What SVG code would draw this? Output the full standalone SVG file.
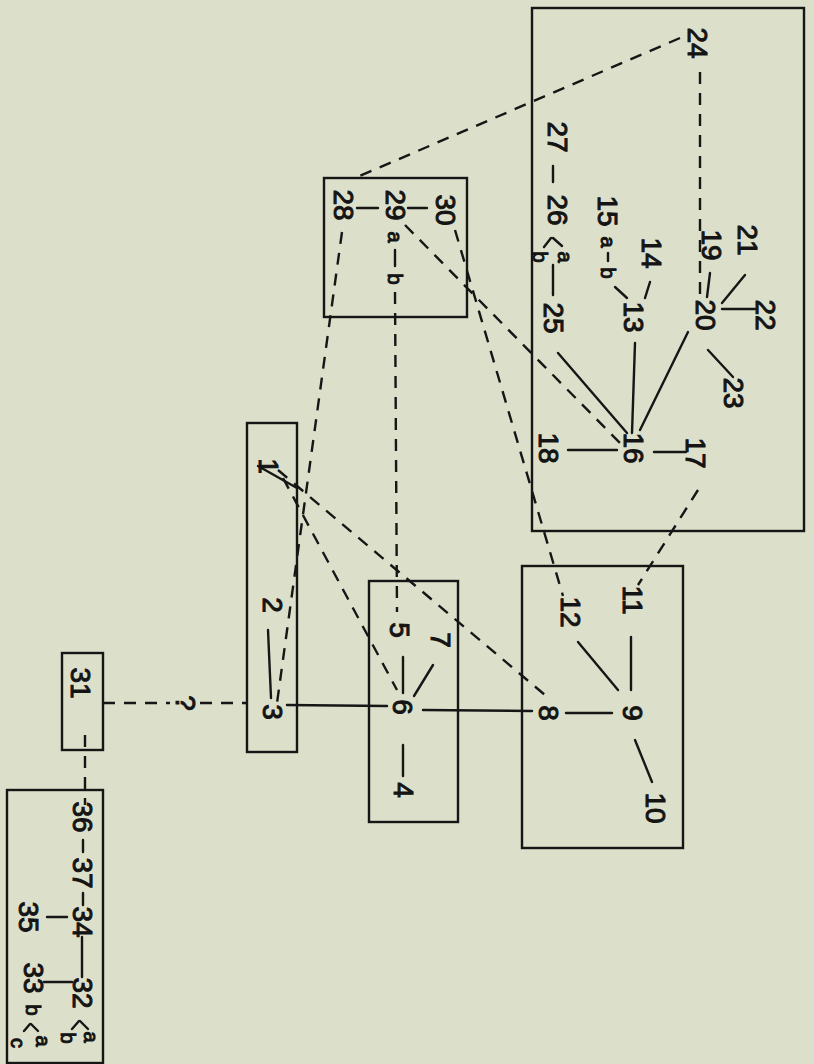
<svg xmlns="http://www.w3.org/2000/svg" width="814" height="1064" viewBox="0 0 814 1064">
<style>
.bg{fill:#dcdfc9}
.box{fill:none;stroke:#161616;stroke-width:2.4}
.s{fill:none;stroke:#161616;stroke-width:2.4;stroke-linecap:round}
.d{fill:none;stroke:#161616;stroke-width:2.4;stroke-dasharray:12 9}
text{font-family:"Liberation Sans",Arial,sans-serif;fill:#141414;stroke:#141414;stroke-width:1;text-anchor:middle;dominant-baseline:central}
.n{font-size:28px}
.sm{font-size:20px}
</style>
<rect class="bg" x="0" y="0" width="814" height="1064"/>
<g id="frames">
<rect class="box" x="532" y="8" width="272" height="523"/>
<rect class="box" x="324" y="178" width="143" height="139"/>
<rect class="box" x="247" y="423" width="50" height="329"/>
<rect class="box" x="369" y="581" width="89" height="241"/>
<rect class="box" x="522" y="566" width="161" height="282"/>
<rect class="box" x="62" y="653" width="41" height="97"/>
<rect class="box" x="7" y="790" width="96" height="273"/>
</g>
<g id="connectors">
<line class="s" x1="268" y1="630" x2="271" y2="698"/>
<line class="s" x1="287" y1="705" x2="387" y2="706"/>
<line class="s" x1="423" y1="710" x2="532" y2="711"/>
<line class="s" x1="403" y1="657" x2="403" y2="693"/>
<line class="s" x1="433" y1="665" x2="414" y2="696"/>
<line class="s" x1="403" y1="745" x2="403" y2="776"/>
<line class="s" x1="566" y1="713" x2="612" y2="713"/>
<line class="s" x1="631" y1="637" x2="631" y2="690"/>
<line class="s" x1="578" y1="642" x2="618" y2="690"/>
<line class="s" x1="635" y1="740" x2="652" y2="782"/>
<line class="s" x1="357" y1="208" x2="378" y2="208"/>
<line class="s" x1="408" y1="208" x2="427" y2="208"/>
<line class="s" x1="553" y1="166" x2="553" y2="182"/>
<line class="s" x1="553" y1="265" x2="553" y2="295"/>
<line class="s" x1="615" y1="287" x2="627" y2="298"/>
<line class="s" x1="650" y1="282" x2="645" y2="298"/>
<line class="s" x1="710" y1="273" x2="707" y2="297"/>
<line class="s" x1="722" y1="303" x2="745" y2="275"/>
<line class="s" x1="722" y1="309" x2="755" y2="309"/>
<line class="s" x1="708" y1="350" x2="733" y2="377"/>
<line class="s" x1="688" y1="332" x2="640" y2="430"/>
<line class="s" x1="635" y1="343" x2="632" y2="433"/>
<line class="s" x1="558" y1="353" x2="627" y2="433"/>
<line class="s" x1="568" y1="450" x2="617" y2="450"/>
<line class="s" x1="654" y1="452" x2="686" y2="452"/>
<line class="s" x1="83" y1="840" x2="83" y2="852"/>
<line class="s" x1="83" y1="893" x2="83" y2="905"/>
<line class="s" x1="47" y1="917" x2="67" y2="917"/>
<line class="s" x1="82" y1="937" x2="82" y2="977"/>
<line class="s" x1="44" y1="982" x2="72" y2="982"/>
<line class="d" x1="700" y1="72" x2="700" y2="297"/>
<line class="d" x1="680" y1="38" x2="355" y2="178"/>
<line class="d" x1="342" y1="232" x2="277" y2="703"/>
<line class="d" x1="395" y1="292" x2="397" y2="612"/>
<line class="d" x1="405" y1="225" x2="620" y2="443"/>
<line class="d" x1="455" y1="230" x2="563" y2="596"/>
<line class="d" x1="698" y1="490" x2="638" y2="585"/>
<line class="d" x1="278" y1="470" x2="545" y2="695"/>
<line class="d" x1="283" y1="478" x2="397" y2="690"/>
<line class="d" x1="103" y1="703" x2="170" y2="703"/>
<line class="d" x1="200" y1="703" x2="247" y2="703"/>
<line class="d" x1="85" y1="735" x2="85" y2="805"/>
</g>
<g id="n1"><text class="n" x="268" y="466" transform="rotate(90 268 466)">1</text><line class="s" x1="258" y1="466" x2="297" y2="488"/></g>
<g id="n2"><text class="n" x="272" y="605" transform="rotate(90 272 605)">2</text></g>
<g id="n3"><text class="n" x="272" y="712" transform="rotate(90 272 712)">3</text></g>
<g id="n4"><text class="n" x="403" y="790" transform="rotate(90 403 790)">4</text></g>
<g id="n5"><text class="n" x="399" y="630" transform="rotate(90 399 630)">5</text></g>
<g id="n6"><text class="n" x="402" y="707" transform="rotate(90 402 707)">6</text></g>
<g id="n7"><text class="n" x="440" y="640" transform="rotate(90 440 640)">7</text></g>
<g id="n8"><text class="n" x="548" y="713" transform="rotate(90 548 713)">8</text></g>
<g id="n9"><text class="n" x="632" y="713" transform="rotate(90 632 713)">9</text></g>
<g id="n10"><text class="n" x="655" y="808" transform="rotate(90 655 808)">10</text></g>
<g id="n11"><text class="n" x="632" y="600" transform="rotate(90 632 600)">11</text></g>
<g id="n12"><text class="n" x="570" y="612" transform="rotate(90 570 612)">12</text></g>
<g id="n13"><text class="n" x="633" y="317" transform="rotate(90 633 317)">13</text></g>
<g id="n14"><text class="n" x="651" y="253" transform="rotate(90 651 253)">14</text></g>
<g id="n15"><text class="n" x="607" y="211" transform="rotate(90 607 211)">15</text><text class="sm" x="608" y="242" transform="rotate(90 608 242)">a</text><line class="s" x1="608" y1="253" x2="608" y2="261"/><text class="sm" x="608" y="273" transform="rotate(90 608 273)">b</text></g>
<g id="n16"><text class="n" x="633" y="448" transform="rotate(90 633 448)">16</text></g>
<g id="n17"><text class="n" x="695" y="453" transform="rotate(90 695 453)">17</text></g>
<g id="n18"><text class="n" x="548" y="448" transform="rotate(90 548 448)">18</text></g>
<g id="n19"><text class="n" x="711" y="245" transform="rotate(90 711 245)">19</text></g>
<g id="n20"><text class="n" x="705" y="315" transform="rotate(90 705 315)">20</text></g>
<g id="n21"><text class="n" x="747" y="240" transform="rotate(90 747 240)">21</text></g>
<g id="n22"><text class="n" x="765" y="315" transform="rotate(90 765 315)">22</text></g>
<g id="n23"><text class="n" x="733" y="393" transform="rotate(90 733 393)">23</text></g>
<g id="n24"><text class="n" x="697" y="43" transform="rotate(90 697 43)">24</text></g>
<g id="n25"><text class="n" x="553" y="318" transform="rotate(90 553 318)">25</text></g>
<g id="n26"><text class="n" x="557" y="210" transform="rotate(90 557 210)">26</text><line class="s" x1="553" y1="238" x2="562" y2="246"/><line class="s" x1="551" y1="238" x2="544" y2="247"/><text class="sm" x="565" y="257" transform="rotate(90 565 257)">a</text><text class="sm" x="540" y="257" transform="rotate(90 540 257)">b</text></g>
<g id="n27"><text class="n" x="557" y="137" transform="rotate(90 557 137)">27</text></g>
<g id="n28"><text class="n" x="343" y="205" transform="rotate(90 343 205)">28</text></g>
<g id="n29"><text class="n" x="395" y="205" transform="rotate(90 395 205)">29</text><text class="sm" x="395" y="237" transform="rotate(90 395 237)">a</text><line class="s" x1="395" y1="250" x2="395" y2="266"/><text class="sm" x="395" y="279" transform="rotate(90 395 279)">b</text></g>
<g id="n30"><text class="n" x="445" y="210" transform="rotate(90 445 210)">30</text></g>
<g id="n31"><text class="n" x="80" y="683" transform="rotate(90 80 683)">31</text></g>
<g id="q"><text class="n" x="185" y="703" transform="rotate(90 185 703)">?</text></g>
<g id="n32"><text class="n" x="82" y="993" transform="rotate(90 82 993)">32</text><line class="s" x1="80" y1="1021" x2="88" y2="1029"/><line class="s" x1="79" y1="1021" x2="72" y2="1029"/><text class="sm" x="91" y="1037" transform="rotate(90 91 1037)">a</text><text class="sm" x="68" y="1038" transform="rotate(90 68 1038)">b</text></g>
<g id="n33"><text class="n" x="33" y="978" transform="rotate(90 33 978)">33</text><text class="sm" x="33" y="1010" transform="rotate(90 33 1010)">b</text><line class="s" x1="31" y1="1024" x2="38" y2="1031"/><line class="s" x1="30" y1="1024" x2="24" y2="1031"/><text class="sm" x="43" y="1041" transform="rotate(90 43 1041)">a</text><text class="sm" x="18" y="1043" transform="rotate(90 18 1043)">c</text></g>
<g id="n34"><text class="n" x="82" y="922" transform="rotate(90 82 922)">34</text></g>
<g id="n35"><text class="n" x="28" y="917" transform="rotate(90 28 917)">35</text></g>
<g id="n36"><text class="n" x="82" y="817" transform="rotate(90 82 817)">36</text></g>
<g id="n37"><text class="n" x="82" y="873" transform="rotate(90 82 873)">37</text></g>
</svg>
